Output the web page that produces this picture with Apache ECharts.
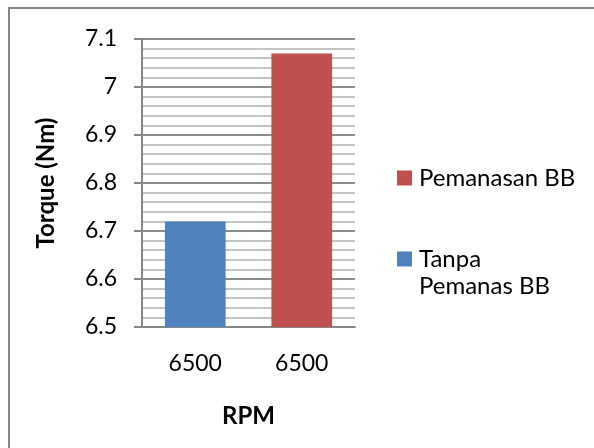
<!DOCTYPE html>
<html>
<head>
<meta charset="utf-8">
<script src="https://cdn.jsdelivr.net/npm/echarts@6/dist/echarts.min.js"></script>
<style>
html,body{margin:0;padding:0;background:#fff;}
#main{width:594px;height:448px;}
</style>
</head>
<body>
<div id="main"></div>
<script>
// data
var categories = ['6500', '6500'];
var seriesNames = ['Tanpa Pemanas BB', 'Pemanasan BB'];
var tanpaValues = [6.72, '-'];
var pemanasanValues = ['-', 7.07];
var yTicks = [6.5, 7.1, 0.1];

var FONT = 'Lato';
var myChart = echarts.init(document.getElementById('main'));
var option = {
    animation: false,
    backgroundColor: '#fff',
    textStyle: {fontFamily: FONT},
    graphic: [{
        type: 'rect',
        shape: {x: 9, y: 8, width: 600, height: 460},
        style: {fill: 'none', stroke: '#868686', lineWidth: 2}
    }, {
        // second line of the wrapped legend label
        type: 'text',
        left: 419, top: 274,
        style: {text: 'Pemanas BB', font: '24px ' + FONT, fill: '#000'}
    }],
    grid: {left: 142, right: 239, top: 39, bottom: 121},
    legend: [{
        data: [seriesNames[1]],
        left: 397, top: 166, padding: 0,
        itemWidth: 15, itemHeight: 15, itemGap: 0,
        icon: 'rect',
        textStyle: {fontFamily: FONT, fontSize: 24, color: '#000', padding: [0, 0, 0, 2]}
    }, {
        data: [seriesNames[0]],
        left: 397, top: 247, padding: 0,
        itemWidth: 15, itemHeight: 15, itemGap: 0,
        icon: 'rect',
        formatter: function () { return 'Tanpa'; },
        textStyle: {fontFamily: FONT, fontSize: 24, color: '#000', padding: [0, 0, 0, 2]}
    }],
    xAxis: {
        type: 'category',
        data: categories,
        name: 'RPM',
        nameLocation: 'middle',
        nameGap: 77,
        nameTextStyle: {fontFamily: FONT, fontSize: 24, fontWeight: 'bold', color: '#000'},
        axisLine: {lineStyle: {color: '#868686', width: 2}},
        axisTick: {show: false},
        axisLabel: {fontFamily: FONT, fontSize: 23, color: '#000', margin: 25}
    },
    yAxis: {
        type: 'value',
        min: yTicks[0], max: yTicks[1], interval: yTicks[2],
        name: 'Torque (Nm)',
        nameLocation: 'middle',
        nameGap: 84,
        nameTextStyle: {fontFamily: FONT, fontSize: 24, fontWeight: 'bold', color: '#000'},
        axisLine: {show: true, lineStyle: {color: '#868686', width: 2}},
        axisTick: {show: true, length: 8, lineStyle: {color: '#868686', width: 2}},
        axisLabel: {fontFamily: FONT, fontSize: 23, color: '#000', margin: 25,
            formatter: function (v) { return String(Math.round(v * 10) / 10); }},
        splitLine: {lineStyle: {color: '#8c8c8c', width: 2}},
        minorTick: {show: false, splitNumber: 5},
        minorSplitLine: {show: true, lineStyle: {color: '#c4c4c4', width: 2}}
    },
    series: [{
        name: seriesNames[0],
        type: 'bar',
        data: tanpaValues,
        barWidth: '57%',
        barGap: '-100%',
        itemStyle: {color: '#4F81BD'}
    }, {
        name: seriesNames[1],
        type: 'bar',
        data: pemanasanValues,
        barWidth: '57%',
        barGap: '-100%',
        itemStyle: {color: '#C0504D'}
    }]
};
myChart.setOption(option);
</script>
</body>
</html>
